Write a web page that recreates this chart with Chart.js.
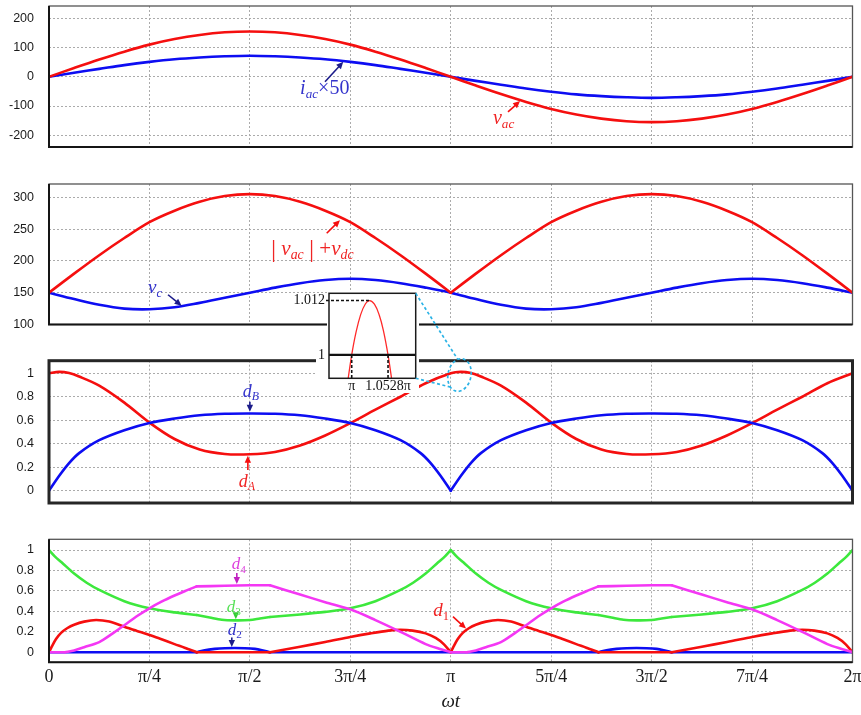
<!DOCTYPE html>
<html><head><meta charset="utf-8">
<script src="https://cdn.jsdelivr.net/npm/chart.js@4.4.1/dist/chart.umd.min.js"></script>
<style>
html,body{margin:0;padding:0;background:#fff;}
#wrap{position:relative;width:861px;height:715px;overflow:hidden;background:#fff;}
#wrap canvas{position:absolute;}
</style></head><body>
<div id="wrap">
<canvas id="c1" style="left:0;top:0;width:861px;height:160px" width="861" height="160"></canvas>
<canvas id="c2" style="left:0;top:170px;width:861px;height:168px" width="861" height="168"></canvas>
<canvas id="c3" style="left:0;top:348px;width:861px;height:168px" width="861" height="168"></canvas>
<canvas id="c4" style="left:0;top:528px;width:861px;height:187px" width="861" height="187"></canvas>
<canvas id="ci" style="left:280px;top:285px;width:145px;height:112px" width="145" height="112"></canvas>
<canvas id="ov" style="left:0;top:0;width:861px;height:715px;pointer-events:none" width="861" height="715"></canvas>
</div>
<script>
// ---------- DATA (x in units of pi/4) ----------
const XTICKS = [0,1,2,3,4,5,6,7,8];
const XLABELS = ['0','π/4','π/2','3π/4','π','5π/4','3π/2','7π/4','2π'];
const U = [0,0.25,0.5,0.75,1,1.25,1.5,1.75,2,2.25,2.5,2.75,3,3.25,3.5,3.75,4,4.25,4.5,4.75,5,5.25,5.5,5.75,6,6.25,6.5,6.75,7,7.25,7.5,7.75,8];

const Y1_TICKS = [-200,-100,0,100,200];
const Y2_TICKS = [100,150,200,250,300];
const Y3_TICKS = [0,0.2,0.4,0.6,0.8,1];
const Y4_TICKS = [0,0.2,0.4,0.6,0.8,1];

// panel 1
const vac   = [0,30,59,86,110,129,143,152,155,152,143,129,110,86,59,30,0,-30,-59,-86,-110,-129,-143,-152,-155,-152,-143,-129,-110,-86,-59,-30,0];
const iac50 = [0,14,27,40,51,60,66,70,72,70,66,60,51,40,27,14,0,-14,-27,-40,-51,-60,-66,-70,-72,-70,-66,-60,-51,-40,-27,-14,0];
// panel 2
const vSum = [150,180,209,236,261,279,293,302,305,302,293,279,261,236,209,180,150,180,209,236,261,279,293,302,305,302,293,279,261,236,209,180,150];
const vSum_kinks = [4];
const vc   = [150,140,131,125,124,127,134,142,150,158,165,170,172,170,165,158,150,140,131,125,124,127,134,142,150,158,165,170,172,170,165,158,150];
// panel 3
const dA_x = [0,0.1,0.2,0.3,0.5,0.75,1,1.25,1.5,1.75,2,2.25,2.5,2.75,3,3.25,3.5,3.75,4,4.1,4.2,4.3,4.5,4.75,5,5.25,5.5,5.75,6,6.25,6.5,6.75,7,7.25,7.5,7.75,8];
const dA   = [1.0,1.012,1.002,0.972,0.895,0.75,0.58,0.44,0.35,0.312,0.31,0.33,0.385,0.47,0.575,0.69,0.80,0.915,1.0,1.012,1.002,0.972,0.895,0.75,0.58,0.44,0.35,0.312,0.31,0.33,0.385,0.47,0.575,0.69,0.80,0.915,1.0];
const dB_x = [0,0.1,0.2,0.3,0.5,0.75,1,1.25,1.5,1.75,2,2.25,2.5,2.75,3,3.25,3.5,3.7,3.8,3.9,4,4.1,4.2,4.3,4.5,4.75,5,5.25,5.5,5.75,6,6.25,6.5,6.75,7,7.25,7.5,7.7,7.8,7.9,8];
const dB   = [0,0.125,0.235,0.32,0.43,0.515,0.577,0.614,0.642,0.655,0.657,0.655,0.642,0.614,0.577,0.515,0.43,0.32,0.235,0.125,0,0.125,0.235,0.32,0.43,0.515,0.577,0.614,0.642,0.655,0.657,0.655,0.642,0.614,0.577,0.515,0.43,0.32,0.235,0.125,0];
const dB_kinks = [4];
// panel 4
const d1_x = [0,0.03,0.07,0.12,0.18,0.25,0.35,0.47,0.6,0.75,0.9,1,1.1,1.25,1.35,1.47,2.2,2.5,2.75,3,3.2,3.38,3.5,3.62,3.75,3.85,3.93,4,4.03,4.07,4.12,4.18,4.25,4.35,4.47,4.6,4.75,4.9,5,5.1,5.25,5.35,5.47,6.2,6.5,6.75,7,7.2,7.38,7.5,7.62,7.75,7.85,7.93,8];
const d1   = [0,0.06,0.13,0.19,0.235,0.27,0.3,0.315,0.3,0.25,0.2,0.17,0.135,0.08,0.045,0,0,0.055,0.10,0.15,0.185,0.212,0.22,0.212,0.185,0.14,0.08,0,0.06,0.13,0.19,0.235,0.27,0.3,0.315,0.3,0.25,0.2,0.17,0.135,0.08,0.045,0,0,0.055,0.10,0.15,0.185,0.212,0.22,0.212,0.185,0.14,0.08,0];
const d1_kinks = [1.47,2.2,4,5.47,6.2];
const d2_x = [0,1.47,1.55,1.65,1.75,1.85,1.95,2.05,2.12,2.2,5.47,5.55,5.65,5.75,5.85,5.95,6.05,6.12,6.2,8];
const d2   = [0,0,0.02,0.033,0.04,0.042,0.04,0.033,0.02,0,0,0.02,0.033,0.04,0.042,0.04,0.033,0.02,0,0];
const d2_kinks = [1.47,2.2,5.47,6.2];
const d3_x = [0,0.06,0.125,0.25,0.375,0.5,0.75,1,1.25,1.47,1.6,1.72,1.85,2,2.1,2.2,2.5,2.75,3,3.25,3.5,3.625,3.75,3.875,3.94,4,4.06,4.125,4.25,4.375,4.5,4.75,5,5.25,5.47,5.6,5.72,5.85,6,6.1,6.2,6.5,6.75,7,7.25,7.5,7.625,7.75,7.875,7.94,8];
const d3   = [1.0,0.935,0.88,0.77,0.68,0.61,0.50,0.43,0.39,0.365,0.34,0.318,0.312,0.315,0.33,0.345,0.37,0.395,0.43,0.50,0.61,0.68,0.77,0.88,0.935,1.0,0.935,0.88,0.77,0.68,0.61,0.50,0.43,0.39,0.365,0.34,0.318,0.312,0.315,0.33,0.345,0.37,0.395,0.43,0.50,0.61,0.68,0.77,0.88,0.935,1.0];
const d3_kinks = [1.47,2.2,4,5.47,6.2];
const d4_x = [0,0.16,0.25,0.35,0.5,0.62,0.75,0.87,1,1.12,1.25,1.37,1.47,1.75,2,2.2,2.5,2.75,3,3.25,3.5,3.75,3.9,4,4.16,4.25,4.35,4.5,4.62,4.75,4.87,5,5.12,5.25,5.37,5.47,5.75,6,6.2,6.5,6.75,7,7.25,7.5,7.75,7.9,8];
const d4   = [0,0,0.018,0.05,0.1,0.175,0.265,0.35,0.43,0.495,0.555,0.605,0.645,0.65,0.655,0.655,0.565,0.49,0.42,0.315,0.2,0.08,0.03,0,0,0.018,0.05,0.1,0.175,0.265,0.35,0.43,0.495,0.555,0.605,0.645,0.65,0.655,0.655,0.565,0.49,0.42,0.315,0.2,0.08,0.03,0];
const d4_kinks = [0.16,1.47,2.2,4,4.16,5.47,6.2];
// inset (x in units of pi)
const IN_X = [0.994,1.0,1.006,1.013,1.02,1.026,1.033,1.04,1.046,1.053,1.059];
const IN_Y = [0.9939,1.0,1.0048,1.0089,1.0113,1.012,1.0112,1.0088,1.0054,0.9998,0.9937];
const IN_XTICKS = [1,1.0528];
const IN_XLABELS = ['π','1.0528π'];
const IN_YTICKS = [1,1.012];
const IN_YLABELS = ['1','1.012'];

// ---------- STYLE ----------
const SERIF = '"Liberation Serif","Times New Roman",serif';
const SANS = '"Liberation Sans",Arial,sans-serif';
const RED='#f50f0f', BLUE='#0d0df2', GREEN='#3de83d', MAG='#f437f4';
const LBLUE='#3434cc', NAVY='#1c1c8a', LRED='#f02424', LMAG='#dd3cdd', LGREEN='#55e055', CYAN='#2bb3e6';
const GRID='#ababab';
const TOPS = {c1:0,c2:170,c3:348,c4:528};

function pts(xs, ys){ return xs.map((x,i)=>({x:x, y:ys[i]})); }
function series(xs, ys, kinks, style){
  const out=[]; let cur=[];
  xs.forEach((x,i)=>{
    cur.push({x:x,y:ys[i]});
    if(kinks.includes(x) && i>0 && i<xs.length-1){ out.push(cur); cur=[{x:x,y:ys[i]}]; }
  });
  out.push(cur);
  return out.map(p=>Object.assign({data:p}, style));
}
function st(color, tension){ return {borderColor:color, borderWidth:2.6, tension:tension, pointRadius:0, fill:false, borderCapStyle:'round', borderJoinStyle:'round'}; }

function drawRich(ctx, x, y, parts, size, color){
  ctx.save(); ctx.fillStyle=color; ctx.textBaseline='alphabetic'; ctx.textAlign='left';
  let cx=x;
  for(const [t,k] of parts){
    const sub = (k==='s'||k==='sn');
    const ital = (k==='i'||k==='s');
    const big = (k==='b');
    const fs = sub ? size*0.66 : (big ? size*1.22 : size);
    ctx.font = (ital?'italic ':'') + fs + 'px ' + SERIF;
    ctx.fillText(t, cx, sub ? y + size*0.2 : (big ? y + size*0.12 : y));
    cx += ctx.measureText(t).width;
  }
  ctx.restore();
}
function drawArrow(ctx, x1,y1,x2,y2,color){
  const a=Math.atan2(y2-y1,x2-x1), L=7, W=3.2, c=Math.cos(a), s=Math.sin(a);
  ctx.save(); ctx.strokeStyle=color; ctx.fillStyle=color; ctx.lineWidth=1.6;
  ctx.beginPath(); ctx.moveTo(x1,y1); ctx.lineTo(x2-L*0.8*c, y2-L*0.8*s); ctx.stroke();
  ctx.beginPath(); ctx.moveTo(x2,y2);
  ctx.lineTo(x2-L*c+W*s, y2-L*s-W*c); ctx.lineTo(x2-L*c-W*s, y2-L*s+W*c); ctx.closePath(); ctx.fill();
  ctx.restore();
}
function annot(labels, arrows){
  return {id:'annot', afterDatasetsDraw(ch){
    const ctx=ch.ctx, sx=ch.scales.x, sy=ch.scales.y;
    arrows.forEach(a=>drawArrow(ctx, sx.getPixelForValue(a.from[0]), sy.getPixelForValue(a.from[1]), sx.getPixelForValue(a.to[0]), sy.getPixelForValue(a.to[1]), a.color));
    labels.forEach(l=>drawRich(ctx, sx.getPixelForValue(l.u), sy.getPixelForValue(l.v), l.parts, l.size, l.color));
  }};
}
function box(w, heavy){
  return {id:'box', afterDraw(ch){
    const ctx=ch.ctx, a=ch.chartArea; ctx.save();
    if(heavy){ ctx.strokeStyle='#262626'; ctx.lineWidth=w; ctx.strokeRect(a.left, a.top, a.right-a.left, a.bottom-a.top); }
    else {
      ctx.strokeStyle='#555'; ctx.lineWidth=1.3; ctx.strokeRect(a.left, a.top, a.right-a.left, a.bottom-a.top);
      ctx.strokeStyle='#151515'; ctx.lineWidth=2; ctx.beginPath();
      ctx.moveTo(a.left, a.top); ctx.lineTo(a.left, a.bottom); ctx.lineTo(a.right, a.bottom); ctx.stroke();
    }
    ctx.restore();
  }};
}
function makePanel(id, cfg, datasets, plugins){
  return new Chart(document.getElementById(id), {
    type:'line',
    data:{datasets:datasets},
    options:{
      responsive:false, animation:false, devicePixelRatio:1, events:[],
      layout:{padding:{left:0,right:8.5,top:cfg.padT,bottom:cfg.padB}},
      plugins:{legend:{display:false}, tooltip:{enabled:false}},
      scales:{
        x:{type:'linear', min:0, max:8,
          afterBuildTicks:s=>{ s.ticks = XTICKS.map(v=>({value:v})); },
          afterFit:s=>{ s.height=cfg.xH; s.paddingLeft=0; s.paddingRight=0; },
          grid:{color:GRID, lineWidth:1, drawTicks:false},
          border:{display:false, dash:[2,2]},
          ticks:{display:!!cfg.showX, autoSkip:false, maxRotation:0, minRotation:0, padding:4,
                 font:{family:SERIF, size:18}, color:'#1a1a1a', callback:(v,i)=>XLABELS[i]},
          title:{display:!!cfg.showX, text:'ωt', color:'#1a1a1a', font:{family:SERIF, size:19, style:'italic'}, padding:{top:0,bottom:2}}
        },
        y:{type:'linear', min:cfg.min, max:cfg.max,
          afterBuildTicks:s=>{ s.ticks = cfg.ticks.map(v=>({value:v})); },
          afterFit:s=>{ s.width=49; s.paddingTop=0; s.paddingBottom=0; },
          grid:{color:GRID, lineWidth:1, drawTicks:false},
          border:{display:false, dash:[2,2]},
          ticks:{padding:15, font:{family:SANS, size:12.5}, color:'#1a1a1a', callback:v=>String(v)}
        }
      }
    },
    plugins:plugins
  });
}

// ---------- PANELS ----------
const ch1 = makePanel('c1', {min:-240,max:242,ticks:Y1_TICKS,padT:6,padB:13,xH:0},
  [Object.assign({data:pts(U,vac)}, st(RED,0.35)), Object.assign({data:pts(U,iac50)}, st(BLUE,0.35))],
  [annot([
     {u:2.5, v:-59, size:20, color:LBLUE, parts:[['i','i'],['ac','s'],['×50','n']]},
     {u:4.42, v:-160, size:20, color:LRED, parts:[['v','i'],['ac','s']]}
   ],[
     {from:[2.748,-16.8], to:[2.93,51], color:NAVY},
     {from:[4.57,-120], to:[4.69,-83], color:RED}
   ]), box(1.3,false)]);

const ch2 = makePanel('c2', {min:100,max:321,ticks:Y2_TICKS,padT:14,padB:13.5,xH:0},
  [...series(U, vSum, vSum_kinks, st(RED,0.3)), Object.assign({data:pts(U,vc)}, st(BLUE,0.35))],
  [annot([
     {u:2.21, v:209.6, size:21, color:LRED, parts:[['|','b'],[' ','n'],['v','i'],['ac','s'],[' ','n'],['|','b'],[' +','n'],['v','i'],['dc','s']]},
     {u:0.986, v:149.6, size:19, color:LBLUE, parts:[['v','i'],['c','s']]}
   ],[
     {from:[2.765,243.6], to:[2.897,264], color:RED},
     {from:[1.185,146.8], to:[1.32,129.5], color:NAVY}
   ]), box(1.3,false)]);

const ch3 = makePanel('c3', {min:-0.105,max:1.107,ticks:Y3_TICKS,padT:12.7,padB:13,xH:0},
  [...series(dB_x, dB, dB_kinks, st(BLUE,0.3)), Object.assign({data:pts(dA_x,dA)}, st(RED,0.3))],
  [annot([
     {u:1.93, v:0.80, size:18, color:LBLUE, parts:[['d','i'],['B','s']]},
     {u:1.89, v:0.034, size:18, color:LRED, parts:[['d','i'],['A','s']]}
   ],[
     {from:[2.0,0.758], to:[2.0,0.672], color:NAVY},
     {from:[1.98,0.176], to:[1.98,0.297], color:RED}
   ]), box(3,true)]);

const ch4 = makePanel('c4', {min:-0.098,max:1.105,ticks:Y4_TICKS,padT:11.3,padB:0,xH:52.7,showX:true},
  [...series(d4_x,d4,d4_kinks,st(MAG,0.3)), ...series(d1_x,d1,d1_kinks,st(RED,0.3)),
   ...series(d3_x,d3,d3_kinks,st(GREEN,0.3)), ...series(d2_x,d2,d2_kinks,st(BLUE,0.3))],
  [annot([
     {u:1.82, v:0.81, size:17, color:LMAG, parts:[['d','i'],['4','sn']]},
     {u:1.77, v:0.397, size:17, color:LGREEN, parts:[['d','i'],['3','sn']]},
     {u:1.78, v:0.169, size:17, color:LBLUE, parts:[['d','i'],['2','sn']]},
     {u:3.826, v:0.355, size:19, color:LRED, parts:[['d','i'],['1','sn']]}
   ],[
     {from:[1.87,0.775], to:[1.87,0.668], color:'#c020c0'},
     {from:[1.86,0.384], to:[1.86,0.322], color:'#33cc33'},
     {from:[1.82,0.145], to:[1.82,0.052], color:NAVY},
     {from:[4.022,0.348], to:[4.152,0.232], color:RED}
   ]), box(1.3,false)]);

// ---------- INSET ----------
const insetPlugin = {id:'inset',
  beforeDraw(ch){
    const ctx=ch.ctx; ctx.save(); ctx.fillStyle='#fff';
    ctx.fillRect(47,5,92,36); ctx.fillRect(36,41,103,67); ctx.restore();
  },
  afterDatasetsDraw(ch){
    const ctx=ch.ctx, a=ch.chartArea, sx=ch.scales.x, sy=ch.scales.y;
    ctx.save();
    const y1=sy.getPixelForValue(IN_YTICKS[0]), yp=sy.getPixelForValue(IN_YTICKS[1]);
    const xa=sx.getPixelForValue(IN_XTICKS[0]), xb=sx.getPixelForValue(IN_XTICKS[1]);
    const xpk=sx.getPixelForValue(IN_X[5]);
    ctx.strokeStyle='#111'; ctx.lineWidth=1.6; ctx.setLineDash([3,2]);
    ctx.beginPath(); ctx.moveTo(a.left-3,yp); ctx.lineTo(xpk,yp); ctx.stroke();
    ctx.beginPath(); ctx.moveTo(xa,y1); ctx.lineTo(xa,a.bottom); ctx.moveTo(xb,y1); ctx.lineTo(xb,a.bottom); ctx.stroke();
    ctx.setLineDash([]); ctx.lineWidth=2.2; ctx.strokeStyle='#111';
    ctx.beginPath(); ctx.moveTo(a.left,y1); ctx.lineTo(a.right,y1); ctx.stroke();
    ctx.lineWidth=1.5; ctx.strokeStyle='#1a1a1a';
    ctx.strokeRect(a.left,a.top,a.right-a.left,a.bottom-a.top);
    ctx.restore();
  }};
const chIn = new Chart(document.getElementById('ci'), {
  type:'line',
  data:{datasets:[{data:pts(IN_X,IN_Y), borderColor:'#ff2a2a', borderWidth:1.3, tension:0.4, pointRadius:0, fill:false}]},
  options:{responsive:false, animation:false, devicePixelRatio:1, events:[],
    layout:{padding:{left:0,right:9.3,top:8.3,bottom:0}},
    plugins:{legend:{display:false}, tooltip:{enabled:false}},
    scales:{
      x:{type:'linear', min:0.967, max:1.093,
        afterBuildTicks:s=>{ s.ticks=IN_XTICKS.map(v=>({value:v})); },
        afterFit:s=>{ s.height=18.7; s.paddingLeft=0; s.paddingRight=0; },
        grid:{display:false, drawTicks:false}, border:{display:false},
        ticks:{autoSkip:false, maxRotation:0, minRotation:0, padding:0, font:{family:SERIF,size:14}, color:'#111', callback:(v,i)=>IN_XLABELS[i]}},
      y:{type:'linear', min:0.99485, max:1.0136,
        afterBuildTicks:s=>{ s.ticks=IN_YTICKS.map(v=>({value:v})); },
        afterFit:s=>{ s.width=49; s.paddingTop=0; s.paddingBottom=0; },
        grid:{display:false, drawTicks:false}, border:{display:false},
        ticks:{padding:4, font:{family:SERIF,size:14}, color:'#111', callback:(v,i)=>IN_YLABELS[i]}}
    }},
  plugins:[insetPlugin]
});

// ---------- ZOOM MARKERS (overlay) ----------
const ELL_U = 4.087, ELL_V = 0.985;
(function(){
  const ctx=document.getElementById('ov').getContext('2d');
  const ia=chIn.chartArea, INX=280, INY=285;
  const ex=ch3.scales.x.getPixelForValue(ELL_U), ey=TOPS.c3+ch3.scales.y.getPixelForValue(ELL_V);
  ctx.strokeStyle=CYAN; ctx.lineWidth=1.7; ctx.setLineDash([3,2.5]);
  ctx.beginPath(); ctx.ellipse(ex,ey,11.5,16.5,0.2,0,Math.PI*2); ctx.stroke();
  ctx.beginPath(); ctx.moveTo(INX+ia.right, INY+ia.top); ctx.lineTo(ex-2, ey-16); ctx.stroke();
  ctx.beginPath(); ctx.moveTo(INX+ia.right, INY+ia.bottom); ctx.lineTo(ex-9, ey+12); ctx.stroke();
})();
</script>
</body></html>
